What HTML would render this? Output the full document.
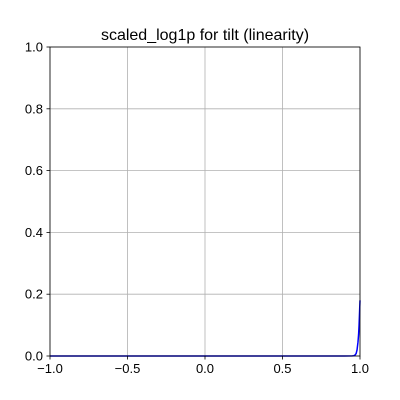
<!DOCTYPE html>
<html><head><meta charset="utf-8"><style>body{margin:0;background:#fff}svg{display:block}text{font-family:"Liberation Sans","DejaVu Sans",sans-serif;fill:#000}</style></head>
<body>
<svg id="chart" width="400" height="400">
<rect width="400" height="400" fill="#fff"/>
<g id="grid"></g><g id="series"></g><g id="axes"></g>
<text x="205" y="40" font-size="16" text-anchor="middle">scaled_log1p for tilt (linearity)</text>
</svg>
<script>
const xTicks=[-1,-0.5,0,0.5,1];
const xTickLabels=["−1.0","−0.5","0.0","0.5","1.0"];
const yTicks=[0,0.2,0.4,0.6,0.8,1];
const yTickLabels=["0.0","0.2","0.4","0.6","0.8","1.0"];
const xValues=[-1,-0.5,0,0.5,0.9,0.95,0.96,0.968,0.975,0.981,0.987,0.991,0.994,0.997,1];
const yValues=[0,0,0,0,0,0.0005,0.001,0.003,0.008,0.02,0.045,0.07,0.1,0.14,0.18];
const L=50,R=360,T=47,B=356;
const sx=v=>L+(v+1)/2*(R-L), sy=v=>B-v*(B-T);
const ns="http://www.w3.org/2000/svg";
function mk(p,t,a){const e=document.createElementNS(ns,t);for(const k in a)e.setAttribute(k,a[k]);p.appendChild(e);return e;}
const g=document.getElementById('grid'),ax=document.getElementById('axes'),s=document.getElementById('series');
xTicks.forEach((v,i)=>{const x=sx(v);
const gl=mk(g,'line',{x1:x,x2:x,y1:T,y2:B,stroke:'#b0b0b0','stroke-width':0.8});

mk(ax,'line',{x1:x,x2:x,y1:B,y2:B+3.5,stroke:'#000','stroke-width':0.8});
const t=mk(ax,'text',{x:x,y:B+17,'font-size':13,'text-anchor':'middle'});t.textContent=xTickLabels[i];
});
yTicks.forEach((v,i)=>{const y=sy(v);
const gl=mk(g,'line',{x1:L,x2:R,y1:y,y2:y,stroke:'#b0b0b0','stroke-width':0.8});

mk(ax,'line',{x1:L-3.5,x2:L,y1:y,y2:y,stroke:'#000','stroke-width':0.8});
const t=mk(ax,'text',{x:L-7,y:y+4.5,'font-size':13,'text-anchor':'end'});t.textContent=yTickLabels[i];
});
const fr=mk(ax,'rect',{x:L,y:T,width:R-L,height:B-T,fill:'none',stroke:'#000','stroke-width':0.8});

const pl=mk(s,'polyline',{points:xValues.map((x,i)=>sx(x)+','+sy(yValues[i])).join(' '),fill:'none',stroke:'#0000ff','stroke-width':1.5});

</script>
</body></html>
